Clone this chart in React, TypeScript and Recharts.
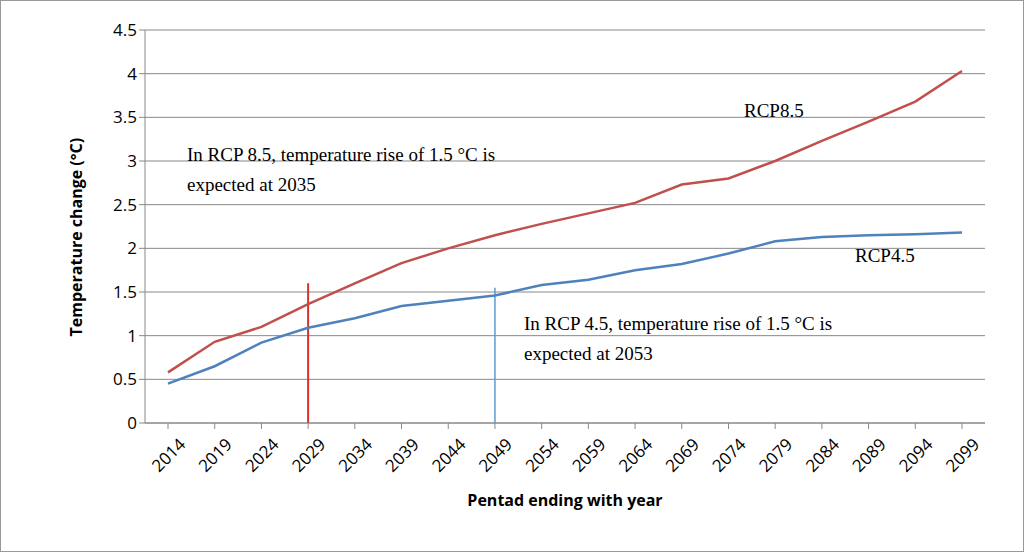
import { LineChart, Line, XAxis, YAxis, CartesianGrid, ReferenceLine } from 'recharts'

const years = ['2014', '2019', '2024', '2029', '2034', '2039', '2044', '2049', '2054', '2059', '2064', '2069', '2074', '2079', '2084', '2089', '2094', '2099']
const rcp85 = [0.58, 0.93, 1.1, 1.36, 1.6, 1.83, 2.0, 2.15, 2.28, 2.4, 2.52, 2.73, 2.8, 3.0, 3.23, 3.45, 3.68, 4.03]
const rcp45 = [0.45, 0.65, 0.92, 1.09, 1.2, 1.34, 1.4, 1.46, 1.58, 1.64, 1.75, 1.82, 1.94, 2.08, 2.13, 2.15, 2.16, 2.18]
const yTicks = [0, 0.5, 1, 1.5, 2, 2.5, 3, 3.5, 4, 4.5]

const data = years.map((year, i) => ({ year, rcp85: rcp85[i], rcp45: rcp45[i] }))

const serif = { fontFamily: 'Liberation Serif', fontSize: 19, fill: '#000' }

export default function App() {
  return (
    <div style={{ position: 'absolute', left: 0, top: 0, width: 1031, height: 557, background: '#fff' }}>
      <div style={{ position: 'absolute', left: 0, top: 0, width: 1022, height: 550, border: '1px solid #999' }} />
      <LineChart width={1031} height={557} data={data} margin={{ top: 30, right: 46, bottom: 54, left: 85 }}>
        <CartesianGrid vertical={false} stroke="#888" />
        <XAxis
          dataKey="year"
          stroke="#888"
          padding={{ left: 23, right: 23 }}
          tick={{ fill: '#000', fontSize: 17, fontFamily: 'Open Sans' }}
          angle={-45}
          textAnchor="end"
          dx={10}
          dy={6}
          interval={0}
          height={80}
          label={{ value: 'Pentad ending with year', position: 'insideBottom', dy: 8, style: { fontWeight: 'bold', fontSize: 16, fontFamily: 'Open Sans', fill: '#000' } }}
        />
        <YAxis
          domain={[0, 4.5]}
          ticks={yTicks}
          stroke="#888"
          tick={{ fill: '#000', fontSize: 17, fontFamily: 'Open Sans' }}
          width={60}
          label={{ value: 'Temperature change (°C)', angle: -90, position: 'insideLeft', dx: -14, dy: 110, style: { fontWeight: 'bold', fontSize: 16, fontFamily: 'Open Sans', fill: '#000' } }}
        />
        <ReferenceLine segment={[{ x: '2029', y: 0 }, { x: '2029', y: 1.6 }]} stroke="#d9302c" strokeWidth={2} />
        <ReferenceLine segment={[{ x: '2049', y: 0 }, { x: '2049', y: 1.55 }]} stroke="#5b9bd5" strokeWidth={1.5} />
        <Line dataKey="rcp85" stroke="#c0504d" strokeWidth={2.5} dot={false} isAnimationActive={false} />
        <Line dataKey="rcp45" stroke="#4f81bd" strokeWidth={2.5} dot={false} isAnimationActive={false} />
        <text x={744} y={117} style={serif}>RCP8.5</text>
        <text x={855} y={262} style={serif}>RCP4.5</text>
        <text x={187} y={161} style={serif}>In RCP 8.5, temperature rise of 1.5 °C is</text>
        <text x={187} y={191} style={serif}>expected at 2035</text>
        <text x={524} y={330} style={serif}>In RCP 4.5, temperature rise of 1.5 °C is</text>
        <text x={524} y={360} style={serif}>expected at 2053</text>
      </LineChart>
    </div>
  )
}
